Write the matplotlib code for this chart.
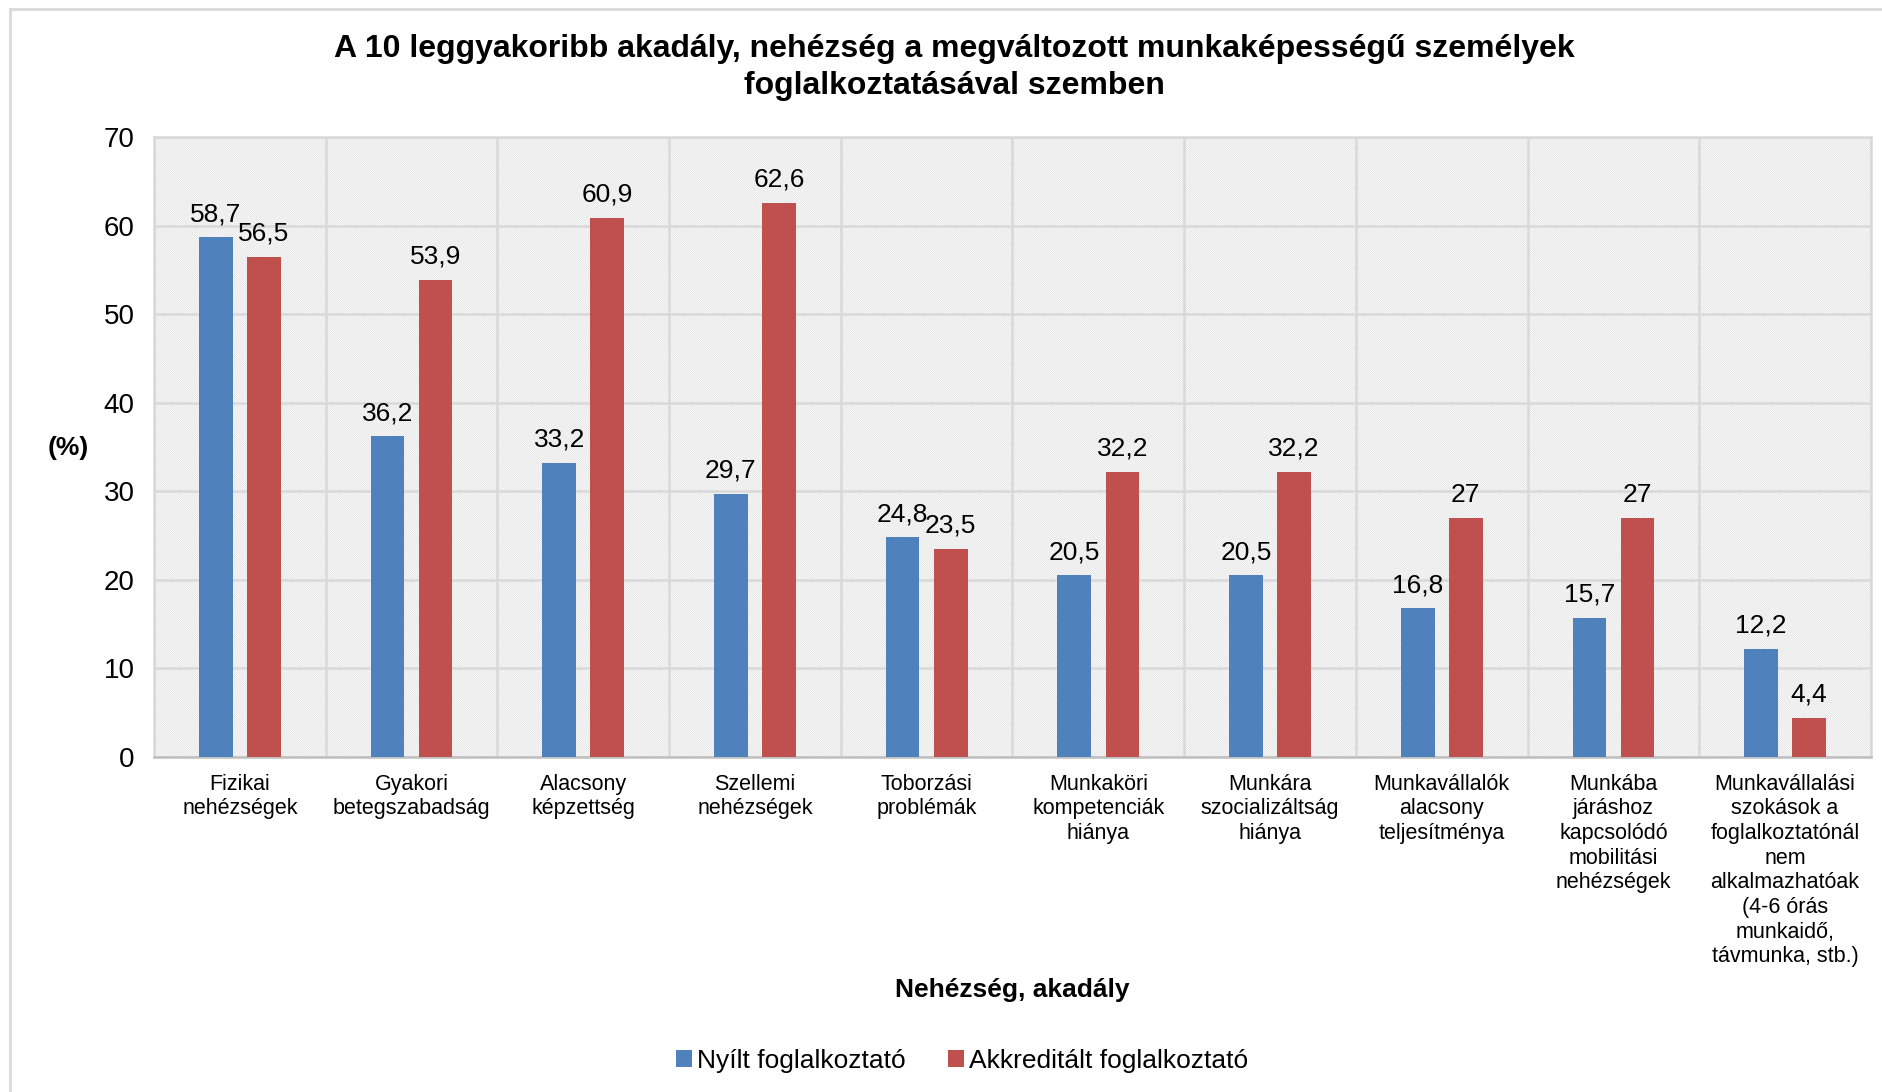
import numpy as np
import matplotlib.pyplot as plt
from matplotlib.patches import Rectangle
from matplotlib.lines import Line2D

plt.rcParams['font.family'] = ['Liberation Sans', 'DejaVu Sans']
plt.rcParams['hatch.linewidth'] = 0.5

categories = ["Fizikai\nnehézségek", "Gyakori\nbetegszabadság", "Alacsony\nképzettség",
              "Szellemi\nnehézségek", "Toborzási\nproblémák", "Munkaköri\nkompetenciák\nhiánya",
              "Munkára\nszocializáltság\nhiánya", "Munkavállalók\nalacsony\nteljesítménya",
              "Munkába\njáráshoz\nkapcsolódó\nmobilitási\nnehézségek",
              "Munkavállalási\nszokások a\nfoglalkoztatónál\nnem\nalkalmazhatóak\n(4-6 órás\nmunkaidő,\ntávmunka, stb.)"]
nyilt = [58.7, 36.2, 33.2, 29.7, 24.8, 20.5, 20.5, 16.8, 15.7, 12.2]
akkreditalt = [56.5, 53.9, 60.9, 62.6, 23.5, 32.2, 32.2, 27, 27, 4.4]
series_names = ["Nyílt foglalkoztató", "Akkreditált foglalkoztató"]

def fmt(v):
    s = ('%g' % v)
    return s.replace('.', ',')

fig = plt.figure(figsize=(18.83, 10.92), dpi=100)
ax = fig.add_axes([0.0818, 0.3068, 0.9936 - 0.0818, 0.8745 - 0.3068])

x = np.arange(len(categories))
w = 0.196
off = 0.14
b1 = ax.bar(x - off, nyilt, w, color='#4F81BD', label=series_names[0], zorder=3)
b2 = ax.bar(x + off, akkreditalt, w, color='#C0504D', label=series_names[1], zorder=3)

for bars, vals in ((b1, nyilt), (b2, akkreditalt)):
    ax.bar_label(bars, labels=[fmt(v) for v in vals], padding=8, fontsize=19, zorder=4)

# hatched background
ax.add_patch(Rectangle((0, 0), 1, 1, transform=ax.transAxes, facecolor='white',
                       edgecolor='#DCDCDC', hatch='\\' * 15, lw=0, zorder=0.1))

ax.set_xlim(-0.5, len(categories) - 0.5)
ax.set_ylim(0, 70)
ax.set_yticks(range(0, 71, 10))
ax.set_xticks(x)
ax.set_xticklabels(categories, fontsize=15.5, linespacing=1.23)
ax.tick_params(axis='y', labelsize=20, length=0, pad=14)
ax.tick_params(axis='x', length=0, pad=12)
ax.set_xticks(np.arange(-0.5, len(categories), 1), minor=True)
ax.grid(True, axis='y', color='#D9D9D9', lw=1.8, zorder=1)
ax.grid(True, axis='x', which='minor', color='#D9D9D9', lw=1.8, zorder=1)
ax.tick_params(which='minor', length=0)
for s in ax.spines.values():
    s.set_color('#D9D9D9')
    s.set_linewidth(1.8)
ax.spines['bottom'].set_color('#BFBFBF')

fig.text(0.507, 0.938, "A 10 leggyakoribb akadály, nehézség a megváltozott munkaképességű személyek\nfoglalkoztatásával szemben",
         ha='center', va='center', fontsize=23, fontweight='bold', linespacing=1.28)
fig.text(1012 / 1883, 1 - 990 / 1092, "Nehézség, akadály", ha='center', va='center',
         fontsize=19, fontweight='bold')
fig.text(68 / 1883, 1 - 448 / 1092, "(%)", ha='center', va='center', fontsize=19, fontweight='bold')

fig.legend(loc='center', bbox_to_anchor=(962 / 1883, 1 - 1061 / 1092), ncol=2, frameon=False,
           fontsize=19, handlelength=0.6, handleheight=0.6, handletextpad=0.2, columnspacing=1.6)

fig.add_artist(Line2D([10 / 1883, 10 / 1883], [0, 1 - 9 / 1092], transform=fig.transFigure,
                      color='#D9D9D9', lw=2))
fig.add_artist(Line2D([10 / 1883, 1], [1 - 9 / 1092, 1 - 9 / 1092], transform=fig.transFigure,
                      color='#D9D9D9', lw=2))

fig.savefig('out.png', dpi=100)
